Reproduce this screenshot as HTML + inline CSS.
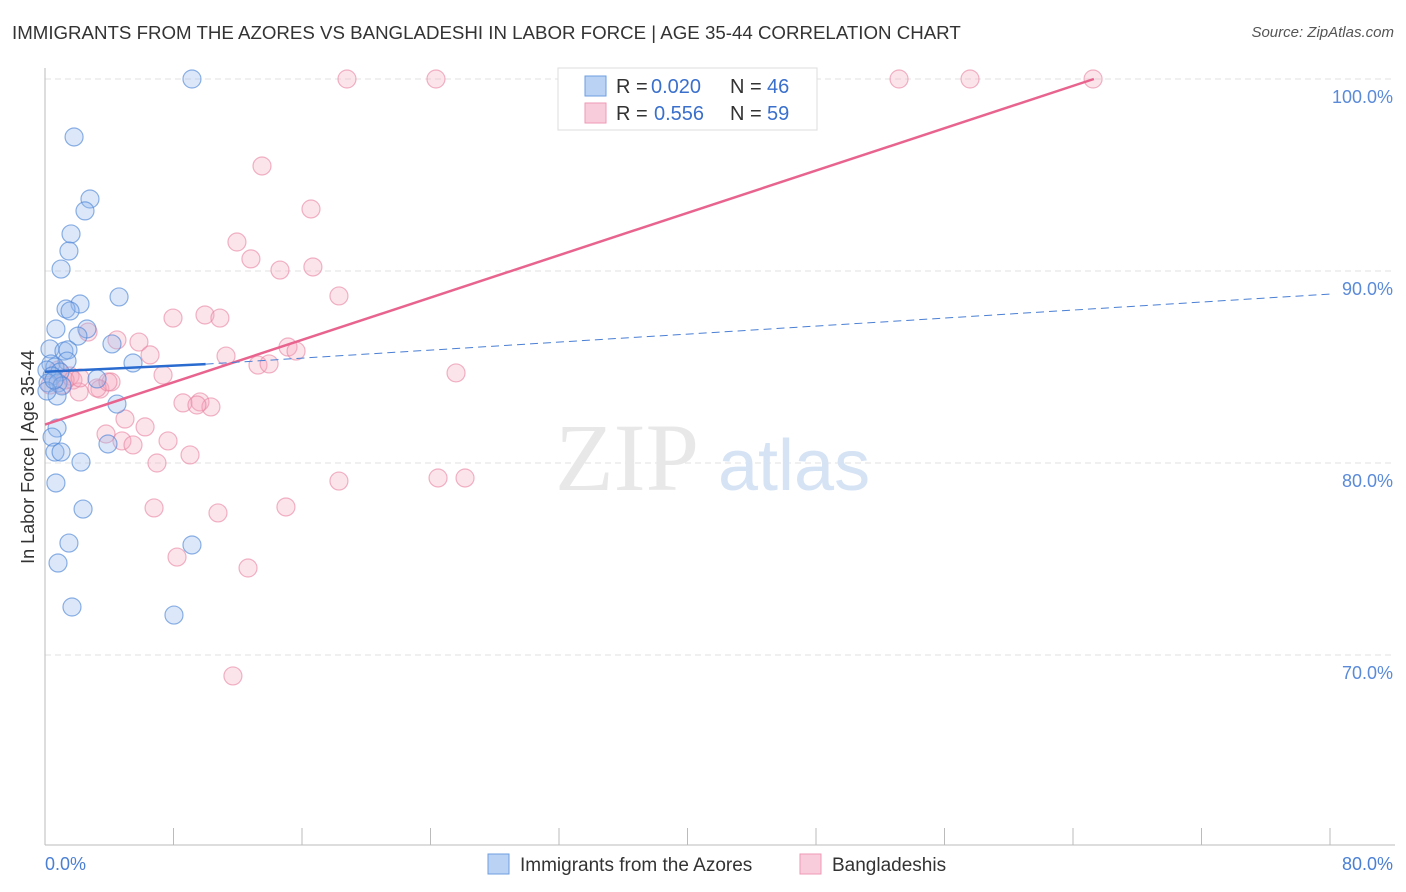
<!DOCTYPE html>
<html><head><meta charset="utf-8">
<style>
body{margin:0;background:#fff;font-family:"Liberation Sans",sans-serif;}
#wrap{position:relative;width:1406px;height:892px;overflow:hidden;}
.t{position:absolute;white-space:nowrap;}
</style></head><body>
<div id="wrap">
<div class="t" style="left:12px;top:22px;font-size:18.7px;color:#333;">IMMIGRANTS FROM THE AZORES VS BANGLADESHI IN LABOR FORCE | AGE 35-44 CORRELATION CHART</div>
<div class="t" style="right:12px;top:24px;font-size:15px;color:#555;font-style:italic;">Source: ZipAtlas.com</div>
<svg id="svg" width="1406" height="892" style="position:absolute;left:0;top:0"></svg>
</div>
<script>
const xTicks=[0,80];
const yTicks=[70,80,90,100];
const bluePx=[[192,79],[74,137],[90,199],[85,211],[71,234],[69,251],[61,269],[119,297],[80,304],[66,309],[70,311],[56,329],[87,329],[78,336],[112,344],[50,349],[64,351],[68,350],[67,361],[51,364],[133,363],[55,367],[47,370],[60,372],[52,376],[97,379],[48,383],[58,383],[62,386],[57,396],[47,391],[117,404],[57,428],[52,437],[108,444],[55,452],[61,452],[81,462],[56,483],[83,509],[69,543],[192,545],[58,563],[72,607],[174,615],[54,380]];
const pinkPx=[[347,79],[436,79],[899,79],[970,79],[1093,79],[262,166],[311,209],[237,242],[251,259],[280,270],[313,267],[339,296],[173,318],[205,315],[220,318],[88,332],[117,340],[139,342],[150,355],[226,356],[288,347],[296,351],[258,365],[269,364],[163,375],[456,373],[70,376],[62,385],[73,380],[79,392],[100,389],[111,382],[97,388],[183,403],[200,402],[211,407],[197,405],[125,419],[145,427],[106,434],[122,441],[133,445],[168,441],[190,455],[157,463],[339,481],[438,478],[465,478],[154,508],[218,513],[286,507],[177,557],[248,568],[233,676],[58,370],[65,380],[50,385],[80,378],[108,382]];
const px2x=p=>(p-45)/1285*80, px2y=p=>100-(p-79)/19.2;
const blueX=bluePx.map(p=>+px2x(p[0]).toFixed(2)), blueY=bluePx.map(p=>+px2y(p[1]).toFixed(2));
const pinkX=pinkPx.map(p=>+px2x(p[0]).toFixed(2)), pinkY=pinkPx.map(p=>+px2y(p[1]).toFixed(2));
const blueTrend=[84.75,85.15,88.8];
const pinkTrend=[82.0,100.0];
const pinkTrendXEnd=65.3;
const legendR=["0.020","0.556"], legendN=["46","59"];

const X=v=>45+v/80*1285, Y=v=>79+(100-v)*19.2;
const svg=document.getElementById('svg');const NS='http://www.w3.org/2000/svg';
function mk(tag,attrs,name){const e=document.createElementNS(NS,tag);for(const k in attrs)e.setAttribute(k,attrs[k]);


svg.appendChild(e);return e;}
yTicks.forEach(v=>{mk('line',{x1:45,x2:1395,y1:Y(v),y2:Y(v),stroke:'#e2e2e2','stroke-dasharray':'6,4'},'gridline');
const t=mk('text',{x:1393,y:Y(v)+24,'text-anchor':'end','font-size':18,fill:'#5a8ad8'},'y-tick-label');t.textContent=v.toFixed(1)+'%';});
mk('line',{x1:45,x2:45,y1:68,y2:845,stroke:'#bbb'},'y-axis');
mk('line',{x1:45,x2:1395,y1:845,y2:845,stroke:'#bbb'},'x-axis');
for(let i=0;i<=10;i++){mk('line',{x1:X(i*8),x2:X(i*8),y1:828,y2:845,stroke:'#bbb'},'x-tick');}
xTicks.forEach((v,i)=>{const t=mk('text',{x:i?1393:45,y:870,'text-anchor':i?'end':'start','font-size':18,fill:'#4a7fd4'},'x-tick-label');t.textContent=v.toFixed(1)+'%';});
const yl=mk('text',{x:34,y:457,'text-anchor':'middle','font-size':18,fill:'#333',transform:'rotate(-90 34 457)'},'y-axis-title');yl.textContent='In Labor Force | Age 35-44';
const w1=mk('text',{x:555,y:490,'font-size':96,fill:'#e8e8e8','font-family':'Liberation Serif,serif'},'watermark');w1.textContent='ZIP';
const w2=mk('text',{x:718,y:490,'font-size':72,fill:'#d6e3f5'},'watermark');w2.textContent='atlas';
pinkX.forEach((x,i)=>mk('circle',{cx:X(x),cy:Y(pinkY[i]),r:9,fill:'rgba(244,165,190,0.3)',stroke:'rgba(232,130,160,0.6)','stroke-width':1.2},'bangladeshi-point'));
blueX.forEach((x,i)=>mk('circle',{cx:X(x),cy:Y(blueY[i]),r:9,fill:'rgba(145,185,235,0.32)',stroke:'rgba(80,135,215,0.65)','stroke-width':1.2},'azores-point'));
mk('line',{x1:X(0),y1:Y(pinkTrend[0]),x2:X(pinkTrendXEnd),y2:Y(pinkTrend[1]),stroke:'#e8648f','stroke-width':2.5},'bangladeshi-trend-line');
mk('line',{x1:X(10),y1:Y(blueTrend[1]),x2:X(80),y2:Y(blueTrend[2]),stroke:'#4a7fd4','stroke-width':1,'stroke-dasharray':'8,5'},'azores-trend-dashed');
mk('line',{x1:X(0),y1:Y(blueTrend[0]),x2:X(10),y2:Y(blueTrend[1]),stroke:'#2a6bd0','stroke-width':2.5},'azores-trend-line');
mk('rect',{x:558,y:68,width:259,height:62,fill:'#fff',stroke:'#ddd'},'legend-box');
[['rgba(140,180,235,0.6)','#6d9ee0'],['rgba(244,170,195,0.6)','#ef9ab5']].forEach((c,i)=>{
const y=76+i*27;
mk('rect',{x:585,y:y,width:21,height:20,fill:c[0],stroke:c[1]},'legend-swatch');
const t1=mk('text',{x:616,y:y+17,'font-size':20,fill:'#333'},'legend-r-label');t1.textContent='R =';
const t2=mk('text',{x:i?654:651,y:y+17,'font-size':20,fill:'#3a70cc'},'legend-r-value');t2.textContent=legendR[i];
const t3=mk('text',{x:730,y:y+17,'font-size':20,fill:'#333'},'legend-n-label');t3.textContent='N =';
const t4=mk('text',{x:767,y:y+17,'font-size':20,fill:'#3a70cc'},'legend-n-value');t4.textContent=legendN[i];
});
mk('rect',{x:488,y:854,width:21,height:20,fill:'rgba(140,180,235,0.6)',stroke:'#6d9ee0'},'legend-entry-azores-swatch');
const b1=mk('text',{x:520,y:871,'font-size':19,fill:'#333'},'legend-entry-azores');b1.textContent='Immigrants from the Azores';
mk('rect',{x:800,y:854,width:21,height:20,fill:'rgba(244,170,195,0.6)',stroke:'#ef9ab5'},'legend-entry-bangladeshi-swatch');
const b2=mk('text',{x:832,y:871,'font-size':19,fill:'#333'},'legend-entry-bangladeshi');b2.textContent='Bangladeshis';
</script>
</body></html>
